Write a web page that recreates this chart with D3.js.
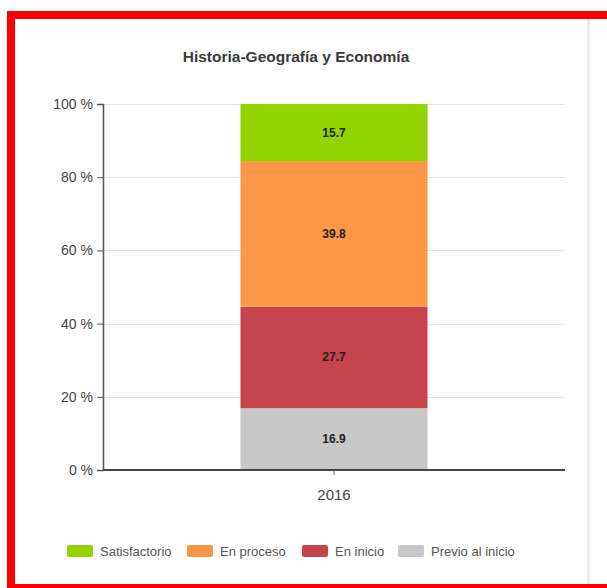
<!DOCTYPE html>
<html><head><meta charset="utf-8">
<script src="https://cdn.jsdelivr.net/npm/d3@7"></script>
<style>html,body{margin:0;padding:0;background:#fff;overflow:hidden;width:607px;height:588px;}svg{display:block;font-family:"Liberation Sans",Arial,sans-serif;}</style>
</head><body>
<svg id="c" width="607" height="588"></svg>
<script>
const title = "Historia-Geografía y Economía";
const categories = ["2016"];
const seriesNames = ["Previo al inicio", "En inicio", "En proceso", "Satisfactorio"];
const previo = [16.9];
const inicio = [27.7];
const proceso = [39.8];
const satisfactorio = [15.7];
const seriesColors = ["#c8c8c8", "#c7434c", "#fd9645", "#93d300"];
const yTicks = [0, 20, 40, 60, 80, 100];
const legendOrder = ["Satisfactorio", "En proceso", "En inicio", "Previo al inicio"];

const svg = d3.select("#c");
svg.append("rect").attr("width",607).attr("height",588).attr("fill","#fff");
// frame (top, left, bottom; right side runs off the picture)
svg.append("rect").attr("x",7).attr("y",11).attr("width",600).attr("height",8).attr("fill","#ff0000");
svg.append("rect").attr("x",7).attr("y",11).attr("width",8).attr("height",577).attr("fill","#ff0000");
svg.append("rect").attr("x",7).attr("y",584).attr("width",600).attr("height",4).attr("fill","#ff0000");
svg.append("line").attr("x1",588.5).attr("x2",588.5).attr("y1",19).attr("y2",584)
  .attr("stroke","#ececec").attr("stroke-width",3);

const m = {l:103, r:565, t:104, b:470};
const x = d3.scaleBand().domain(categories).range([m.l, m.r]).paddingInner(0.6).paddingOuter(0.3);
const y = d3.scaleLinear().domain([0,100]).range([m.b, m.t]);

svg.append("text").attr("x",296).attr("y",62).attr("text-anchor","middle")
  .attr("font-size",15.5).attr("font-weight","bold").attr("fill","#3a3a3a").text(title);

// grid
svg.append("g").selectAll("line").data(yTicks.slice(1)).join("line")
  .attr("x1",m.l).attr("x2",m.r).attr("y1",d=>Math.round(y(d))+0.5).attr("y2",d=>Math.round(y(d))+0.5)
  .attr("stroke","#e3e3e3");

// stacked bars
const rows = categories.map((c,i)=>({cat:c, "Previo al inicio":previo[i], "En inicio":inicio[i], "En proceso":proceso[i], "Satisfactorio":satisfactorio[i]}));
const stack = d3.stack().keys(seriesNames)(rows);
const color = d3.scaleOrdinal().domain(seriesNames).range(seriesColors);
const bw = 187;
stack.forEach(s=>{
  const g = svg.append("g");
  g.selectAll("rect").data(s).join("rect")
    .attr("x",d=>x(d.data.cat)+x.bandwidth()/2-bw/2).attr("width",bw)
    .attr("y",d=>y(Math.min(d[1],100))).attr("height",d=>y(d[0])-y(Math.min(d[1],100)))
    .attr("fill",color(s.key));
  g.selectAll("text").data(s).join("text")
    .attr("x",d=>x(d.data.cat)+x.bandwidth()/2)
    .attr("y",d=>(y(d[0])+y(Math.min(d[1],100)))/2+4)
    .attr("text-anchor","middle").attr("font-size",12).attr("font-weight","bold")
    .attr("fill","#222").text(d=>(d[1]-d[0]).toFixed(1));
});

// y axis
const ya = svg.append("g").attr("transform",`translate(${m.l},0)`)
  .call(d3.axisLeft(y).tickValues(yTicks).tickFormat(d=>d+" %").tickSize(6).tickPadding(4));
ya.select(".domain").attr("stroke","#555").attr("stroke-width",1.5);
ya.selectAll(".tick line").attr("stroke","#555");
ya.selectAll(".tick text").attr("font-size",14).attr("fill","#444").attr("font-family","Liberation Sans, Arial, sans-serif");

// x axis
const xa = svg.append("g").attr("transform",`translate(0,${m.b})`)
  .call(d3.axisBottom(x).tickSize(5).tickPadding(14));
xa.select(".domain").attr("stroke","#444").attr("stroke-width",2).attr("d",`M${m.l},0H${m.r}`);
xa.selectAll(".tick line").attr("stroke","#777");
xa.selectAll(".tick text").attr("font-size",15).attr("fill","#444").attr("font-family","Liberation Sans, Arial, sans-serif");

// legend
const legX = [67, 187, 302, 398];
const lg = svg.append("g");
legendOrder.forEach((n,i)=>{
  lg.append("rect").attr("x",legX[i]).attr("y",545).attr("width",26).attr("height",12).attr("rx",2).attr("fill",color(n));
  lg.append("text").attr("x",legX[i]+33).attr("y",556).attr("font-size",13).attr("fill","#555").text(n);
});
</script>
</body></html>
